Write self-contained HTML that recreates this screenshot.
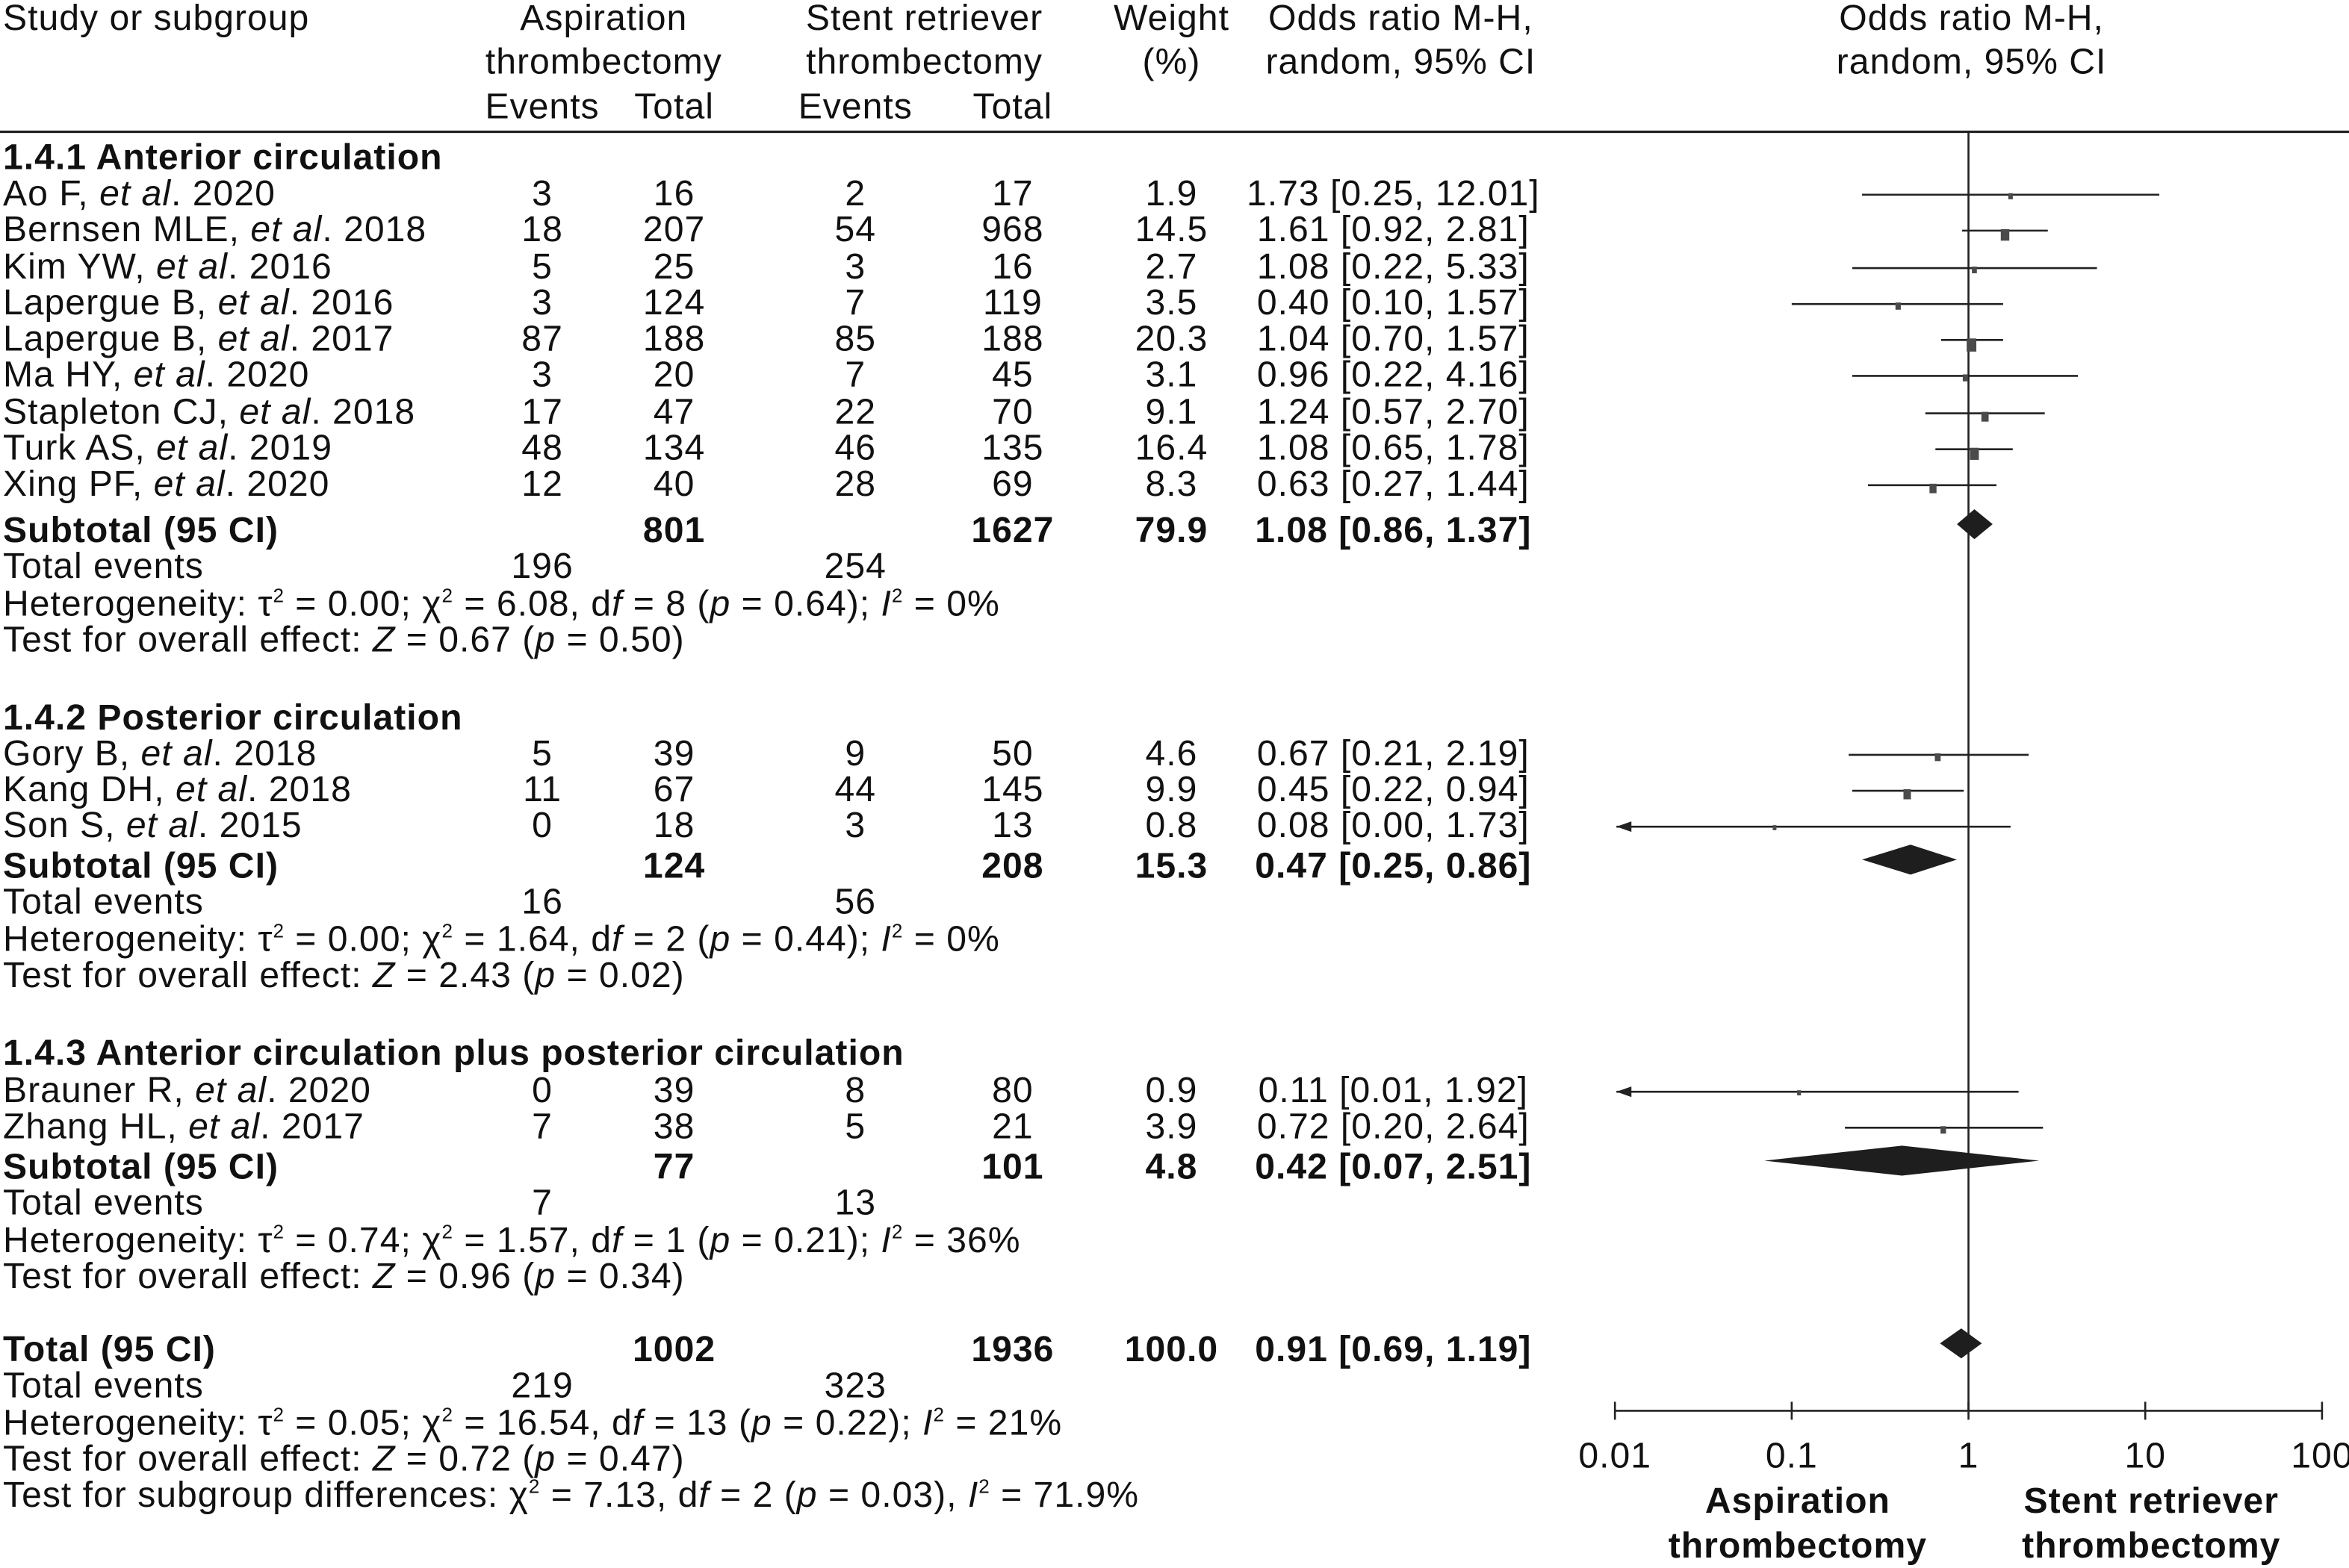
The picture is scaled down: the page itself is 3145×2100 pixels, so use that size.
<!DOCTYPE html>
<html><head><meta charset="utf-8"><style>
html,body{margin:0;padding:0;background:#fff}
svg{display:block}
text{font-family:"Liberation Sans",sans-serif;font-size:24px;letter-spacing:0.5px;fill:#111}
.b{font-weight:bold}
</style></head><body>
<svg id="chart" width="3145" height="2100" viewBox="0 0 1568 1047" preserveAspectRatio="none" xmlns="http://www.w3.org/2000/svg">
<g id="g"></g>
</svg>
<script>
// study-level data
const studyNames = ["Ao F|2020","Bernsen MLE|2018","Kim YW|2016","Lapergue B|2016","Lapergue B|2017","Ma HY|2020","Stapleton CJ|2018","Turk AS|2019","Xing PF|2020","Gory B|2018","Kang DH|2018","Son S|2015","Brauner R|2020","Zhang HL|2017"];
const studyY = [129,153,178,202,226,250,275,299,323,503,527,551,728,752];
const evA = [3,18,5,3,87,3,17,48,12,5,11,0,0,7];
const totA = [16,207,25,124,188,20,47,134,40,39,67,18,39,38];
const evS = [2,54,3,7,85,7,22,46,28,9,44,3,8,5];
const totS = [17,968,16,119,188,45,70,135,69,50,145,13,80,21];
const weights = [1.9,14.5,2.7,3.5,20.3,3.1,9.1,16.4,8.3,4.6,9.9,0.8,0.9,3.9];
const orVal = [1.73,1.61,1.08,0.40,1.04,0.96,1.24,1.08,0.63,0.67,0.45,0.08,0.11,0.72];
const orLo = [0.25,0.92,0.22,0.10,0.70,0.22,0.57,0.65,0.27,0.21,0.22,0.00,0.01,0.20];
const orHi = [12.01,2.81,5.33,1.57,1.57,4.16,2.70,1.78,1.44,2.19,0.94,1.73,1.92,2.64];
// subtotal/total data
const subNames = ["Subtotal (95 CI)","Subtotal (95 CI)","Subtotal (95 CI)","Total (95 CI)"];
const subY = [354,578,779,901];
const subTotA = [801,124,77,1002];
const subTotS = [1627,208,101,1936];
const subW = ["79.9","15.3","4.8","100.0"];
const subOR = [1.08,0.47,0.42,0.91];
const subLo = [0.86,0.25,0.07,0.69];
const subHi = [1.37,0.86,2.51,1.19];
const subEvA = [196,16,7,219];
const subEvS = [254,56,13,323];
const tickVals = [0.01,0.1,1,10,100];
const tickLabels = ["0.01","0.1","1","10","100"];

const g = document.getElementById('g');
const NS = "http://www.w3.org/2000/svg";
function el(tag, attrs){const e=document.createElementNS(NS,tag);for(const k in attrs)e.setAttribute(k,attrs[k]);g.appendChild(e);return e;}
function txt(x,y,s,anchor,cls){const t=el('text',{x:x,y:y+8,'text-anchor':anchor||'start'});if(cls)t.setAttribute('class',cls);t.innerHTML=s;return t;}
const X0=1314, DEC=118, XMIN=1079;
function xs(v){ if(v<=0) return XMIN-10; return X0+DEC*Math.log10(v); }
const f2=v=>v.toFixed(2);

let t;
t=txt(2,12,"Study or subgroup");


t=txt(403,12,"Aspiration","middle");
txt(403,41,"thrombectomy","middle");
txt(362,71,"Events","middle");txt(450,71,"Total","middle");
t=txt(617,12,"Stent retriever","middle");
txt(617,41,"thrombectomy","middle");
txt(571,71,"Events","middle");txt(676,71,"Total","middle");
t=txt(782,12,"Weight","middle");
txt(782,41,"(%)","middle");
t=txt(935,12,"Odds ratio M-H,","middle");
txt(935,41,"random, 95% CI","middle");
t=txt(1316,12,"Odds ratio M-H,","middle");
txt(1316,41,"random, 95% CI","middle");
let r=el('line',{x1:0,y1:88,x2:1568,y2:88,stroke:'#222','stroke-width':1.6});


const groups=[[105,"1.4.1 Anterior circulation"],[479,"1.4.2 Posterior circulation"],[703,"1.4.3 Anterior circulation plus posterior circulation"]];
groups.forEach(([y,s])=>{const e=txt(2,y,s,'start','b');});

r=el('line',{x1:X0,y1:88,x2:X0,y2:942,stroke:'#222','stroke-width':1.3});


studyNames.forEach((n,i)=>{
  const y=studyY[i];const [a,b]=n.split('|');
  const e=txt(2,y,a+", <tspan font-style=\"italic\">et al</tspan>. "+b);
  
  
  txt(362,y,evA[i],'middle');txt(450,y,totA[i],'middle');
  txt(571,y,evS[i],'middle');txt(676,y,totS[i],'middle');
  txt(782,y,weights[i].toFixed(1),'middle');
  txt(930,y,f2(orVal[i])+" ["+f2(orLo[i])+", "+f2(orHi[i])+"]",'middle');
  const ly=y+1;
  const x1=Math.max(xs(orLo[i]),XMIN), x2=xs(orHi[i]);
  const ln=el('line',{x1:x1,y1:ly,x2:x2,y2:ly,stroke:'#222','stroke-width':1.3});
  
  
  if(xs(orLo[i])<XMIN){
    const ar=el('polygon',{points:`${XMIN},${ly} ${XMIN+10},${ly-3.5} ${XMIN+10},${ly+3.5}`,fill:'#222'});
    
    
  }
  const w=1.5+1.1*Math.sqrt(weights[i]), h=2+1.5*Math.sqrt(weights[i]);
  const sq=el('rect',{x:xs(orVal[i])-w/2,y:ly-1,width:w,height:h,fill:'#4a4a4a'});
  
  
});

const sup='<tspan font-size="13" dy="-9">2</tspan><tspan dy="9">';
const hetText=[
 "Heterogeneity: τ"+sup+" = 0.00; χ</tspan>"+sup+" = 6.08, d</tspan><tspan font-style=\"italic\">f</tspan> = 8 (<tspan font-style=\"italic\">p</tspan> = 0.64); <tspan font-style=\"italic\">I</tspan>"+sup+" = 0%</tspan>",
 "Heterogeneity: τ"+sup+" = 0.00; χ</tspan>"+sup+" = 1.64, d</tspan><tspan font-style=\"italic\">f</tspan> = 2 (<tspan font-style=\"italic\">p</tspan> = 0.44); <tspan font-style=\"italic\">I</tspan>"+sup+" = 0%</tspan>",
 "Heterogeneity: τ"+sup+" = 0.74; χ</tspan>"+sup+" = 1.57, d</tspan><tspan font-style=\"italic\">f</tspan> = 1 (<tspan font-style=\"italic\">p</tspan> = 0.21); <tspan font-style=\"italic\">I</tspan>"+sup+" = 36%</tspan>",
 "Heterogeneity: τ"+sup+" = 0.05; χ</tspan>"+sup+" = 16.54, d</tspan><tspan font-style=\"italic\">f</tspan> = 13 (<tspan font-style=\"italic\">p</tspan> = 0.22); <tspan font-style=\"italic\">I</tspan>"+sup+" = 21%</tspan>"];
const testText=["0.67 (<tspan font-style=\"italic\">p</tspan> = 0.50)","2.43 (<tspan font-style=\"italic\">p</tspan> = 0.02)","0.96 (<tspan font-style=\"italic\">p</tspan> = 0.34)","0.72 (<tspan font-style=\"italic\">p</tspan> = 0.47)"];
subNames.forEach((n,i)=>{
  const y=subY[i];
  const e=txt(2,y,n,'start','b');
  
  
  txt(450,y,subTotA[i],'middle','b');txt(676,y,subTotS[i],'middle','b');
  txt(782,y,subW[i],'middle','b');
  txt(930,y,f2(subOR[i])+" ["+f2(subLo[i])+", "+f2(subHi[i])+"]",'middle','b');
  txt(2,y+24,"Total events");txt(362,y+24,subEvA[i],'middle');txt(571,y+24,subEvS[i],'middle');
  txt(2,y+49,hetText[i]);
  txt(2,y+73,"Test for overall effect: <tspan font-style=\"italic\">Z</tspan> = "+testText[i]);
  const dy=y-4;
  const d=el('polygon',{points:`${xs(subLo[i])},${dy} ${xs(subOR[i])},${dy-10} ${xs(subHi[i])},${dy} ${xs(subOR[i])},${dy+10}`,fill:'#1e1e1e'});
  
  
});
txt(2,998,"Test for subgroup differences: χ"+sup+" = 7.13, d</tspan><tspan font-style=\"italic\">f</tspan> = 2 (<tspan font-style=\"italic\">p</tspan> = 0.03), <tspan font-style=\"italic\">I</tspan>"+sup+" = 71.9%</tspan>");

const ax=el('line',{x1:xs(tickVals[0]),y1:942,x2:xs(tickVals[tickVals.length-1]),y2:942,stroke:'#222','stroke-width':1.3});

tickVals.forEach((v,i)=>{
  const tk=el('line',{x1:xs(v),y1:936,x2:xs(v),y2:948,stroke:'#222','stroke-width':1.3});
  
  
  const tl=txt(xs(v),972,tickLabels[i],'middle');
  
  
});
t=txt(1200,1002,"Aspiration","middle","b");
txt(1200,1032,"thrombectomy","middle","b");
t=txt(1436,1002,"Stent retriever","middle","b");
txt(1436,1032,"thrombectomy","middle","b");
</script>
</body></html>
